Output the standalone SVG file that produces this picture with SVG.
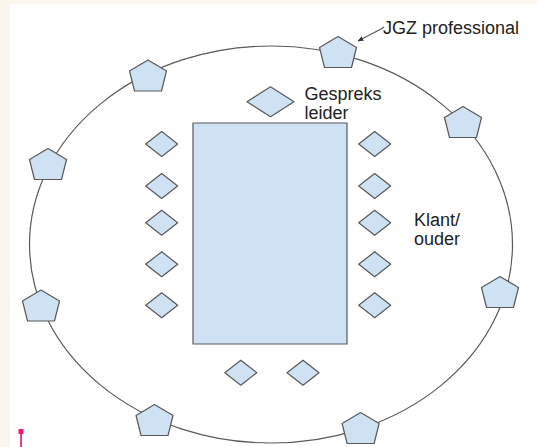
<svg xmlns="http://www.w3.org/2000/svg" width="537" height="447" viewBox="0 0 537 447">
<style>
.shape{fill:#cfe2f3;stroke:#595959;stroke-width:1.2;stroke-linejoin:round}
.line{fill:none;stroke:#595959;stroke-width:1.2}
.label{font-family:"Liberation Sans",Arial,sans-serif;font-size:18px;fill:#222}
</style>
<defs>
<polygon id="pent" points="0,-15.5 18.5,-4.5 13.5,15.5 -13.5,15.5 -18.5,-4.5"/>
<polygon id="dia" points="0,-12.5 16,0 0,12.5 -16,0"/>
<marker id="arr" viewBox="0 0 10 10" refX="9" refY="5" markerWidth="6" markerHeight="6" orient="auto" markerUnits="userSpaceOnUse">
<path d="M0,1 L10,5 L0,9 z" fill="#333"/>
</marker>
</defs>
<rect x="0" y="0" width="537" height="447" fill="#fbf6ee"/>
<rect x="10" y="4" width="527" height="443" fill="#ffffff"/>
<g id="pink-marker" fill="#ee1a75">
<rect x="18.5" y="429" width="5" height="5"/>
<rect x="20.2" y="433" width="1.7" height="14"/>
</g>
<g id="ring"><ellipse class="line" cx="271" cy="244.5" rx="241.5" ry="198.5"/></g>
<g id="table"><rect class="shape" x="193" y="123" width="154" height="221"/></g>
<g id="gespreksleider"><polygon class="shape" points="270.5,86.7 294,101.7 270.5,116.7 247,101.7"/></g>
<g id="seats-left">
<use href="#dia" class="shape" x="161.7" y="144"/>
<use href="#dia" class="shape" x="161.7" y="186"/>
<use href="#dia" class="shape" x="161.7" y="222.7"/>
<use href="#dia" class="shape" x="161.7" y="264.3"/>
<use href="#dia" class="shape" x="161.7" y="305.3"/>
</g>
<g id="seats-right">
<use href="#dia" class="shape" x="374.7" y="144"/>
<use href="#dia" class="shape" x="374.7" y="186"/>
<use href="#dia" class="shape" x="374.7" y="222.7"/>
<use href="#dia" class="shape" x="374.7" y="264.3"/>
<use href="#dia" class="shape" x="374.7" y="305.3"/>
</g>
<g id="seats-bottom">
<use href="#dia" class="shape" x="240.8" y="372.7"/>
<use href="#dia" class="shape" x="303" y="372.7"/>
</g>
<g id="professionals">
<use href="#pent" class="shape" x="338" y="52"/>
<use href="#pent" class="shape" x="148" y="75.5"/>
<use href="#pent" class="shape" x="48" y="164"/>
<use href="#pent" class="shape" x="41" y="305.5"/>
<use href="#pent" class="shape" x="154.5" y="420"/>
<use href="#pent" class="shape" x="360.6" y="428"/>
<use href="#pent" class="shape" x="500" y="292"/>
<use href="#pent" class="shape" x="463" y="122"/>
</g>
<g id="connectors">
<path class="line" d="M384,27 L381,29 L358,41" marker-end="url(#arr)"/>
</g>
<g id="labels">
<text class="label" x="383" y="33.5">JGZ professional</text>
<text class="label" x="304.5" y="100">Gespreks</text>
<text class="label" x="304.5" y="119">leider</text>
<text class="label" x="414" y="226">Klant/</text>
<text class="label" x="414" y="245">ouder</text>
</g>
</svg>
